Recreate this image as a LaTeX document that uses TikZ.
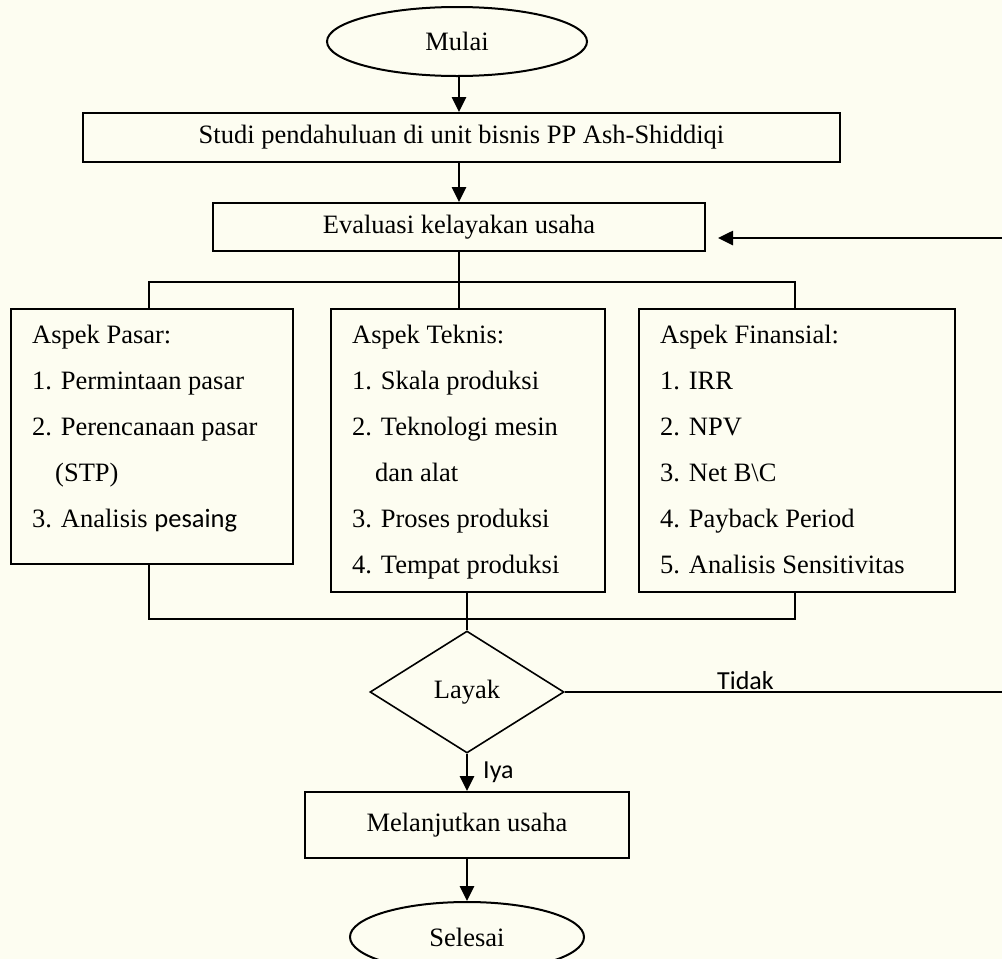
\documentclass[tikz,border=0pt]{standalone}
\usepackage{fontspec}
\setmainfont{Liberation Serif}
\newfontfamily\carl{Carlito}
\usetikzlibrary{shapes.geometric,arrows.meta}
\definecolor{bgc}{RGB}{253,253,241}
\begin{document}
\begin{tikzpicture}[x=1pt,y=-1pt,
  every node/.style={font=\fontsize{26.5}{46}\selectfont, inner sep=0pt},
  box/.style={draw, line width=2pt, rectangle},
  term/.style={draw, line width=2pt, ellipse},
  dec/.style={draw, line width=1.6pt, diamond},
  txt/.style={anchor=north west, align=left},
  lab/.style={font=\carl\fontsize{26}{30}\selectfont, anchor=base west},
  arr/.style={line width=2.6pt, -{Triangle[length=15pt,width=14pt]}},
  ln/.style={line width=2pt}]
\path[use as bounding box, fill=bgc] (0,0) rectangle (1002,959);
\clip (0,0) rectangle (1002,959);

\node[term, minimum width=260pt, minimum height=69pt] (mulai) at (457,41.5) {Mulai};
\node[box, minimum width=757pt, minimum height=49pt] (studi) at (461.5,137.5) {Studi pendahuluan di unit bisnis PP Ash-Shiddiqi};
\node[box, minimum width=492pt, minimum height=48pt] (eval) at (459,227) {Evaluasi kelayakan usaha};

\node[box, minimum width=282pt, minimum height=255pt] (pasar) at (152,436.5) {};
\node[box, minimum width=274pt, minimum height=283pt] (teknis) at (468,450.5) {};
\node[box, minimum width=316pt, minimum height=283pt] (fin) at (797,450.5) {};

\node[txt] (pasarT) at (32,323) {\rule{0pt}{20pt}Aspek Pasar:\\1. Permintaan pasar\\2. Perencanaan pasar\\\hspace*{23pt}(STP)\\3. Analisis {\carl pesaing}};
\node[txt] (teknisT) at (352,323) {\rule{0pt}{20pt}Aspek Teknis:\\1. Skala produksi\\2. Teknologi mesin\\\hspace*{23pt}dan alat\\3. Proses produksi\\4. Tempat produksi};
\node[txt] (finT) at (660,323) {\rule{0pt}{20pt}Aspek Finansial:\\1. IRR\\2. NPV\\3. Net B\textbackslash C\\4. Payback Period\\5. Analisis Sensitivitas};

\node[dec, minimum width=194pt, minimum height=122pt] (layak) at (467,692) {Layak};
\node[box, minimum width=324pt, minimum height=66pt] (lanjut) at (467,825) {Melanjutkan usaha};
\node[term, minimum width=234pt, minimum height=70pt] (selesai) at (467,937) {Selesai};

\node[lab] (tidak) at (717,689) {Tidak};
\node[lab] (iya) at (483,778) {Iya};

\draw[arr] (mulai.south -| eval.north) -- (eval.north |- studi.north);
\draw[arr] (studi.south -| eval.north) -- (eval.north);
\draw[ln] (eval.south) -- (eval.south |- teknis.north);

\coordinate (tl) at (149,282);
\coordinate (tr) at (795,282);
\draw[ln] (tl |- pasar.north) -- (tl) -- (tr) -- (tr |- fin.north);
\coordinate (bl) at (149,619);
\coordinate (br) at (795,619);
\draw[ln] (bl |- pasar.south) -- (bl) -- (br) -- (br |- fin.south);
\draw[ln] (teknis.south -| layak.north) -- (layak.north);

\draw[arr] (layak.south) -- (lanjut.north);
\draw[arr] (lanjut.south) -- (selesai.north);

\coordinate (xr) at (1012,0);
\coordinate (ret) at (718,238);
\draw[ln] (layak.east) -- (layak.east -| xr) -- (xr |- ret);
\draw[arr] (xr |- ret) -- (ret);
\end{tikzpicture}
\end{document}
